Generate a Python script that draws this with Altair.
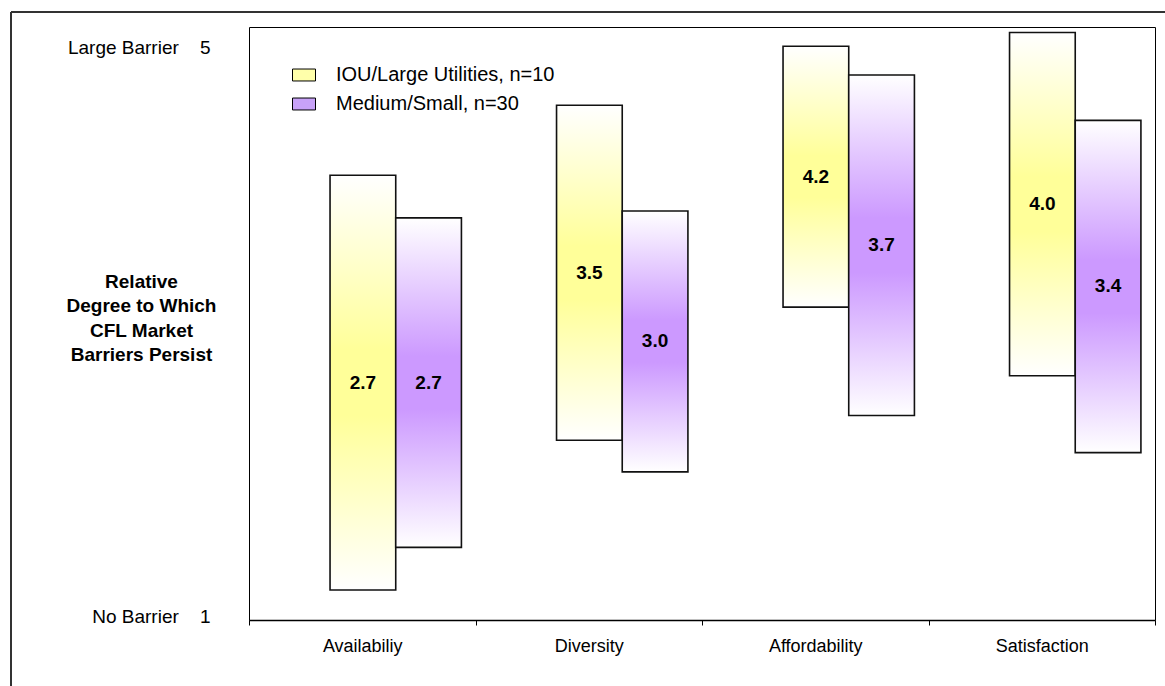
import altair as alt
import pandas as pd

# Survey categories and the two respondent groups
categories = ["Availabiliy", "Diversity", "Affordability", "Satisfaction"]
series_names = ["IOU/Large Utilities, n=10", "Medium/Small, n=30"]

# Mean rating (printed inside each bar) and the half-height of each bar
iou_means = [2.7, 3.5, 4.2, 4.0]
iou_spread = [1.51, 1.22, 0.95, 1.25]
small_means = [2.7, 3.0, 3.7, 3.4]
small_spread = [1.20, 0.95, 1.24, 1.21]

# y-axis end labels
axis_label_values = [1, 5.14]
axis_label_text = ["No Barrier\u00a0\u00a0\u00a0\u00a01", "Large Barrier\u00a0\u00a0\u00a0\u00a05"]

rows = []
for name, means, spreads in [(series_names[0], iou_means, iou_spread),
                             (series_names[1], small_means, small_spread)]:
    for cat, m, s in zip(categories, means, spreads):
        rows.append({"category": cat, "series": name, "mean": m,
                     "low": m - s, "high": m + s, "label": f"{m:.1f}"})
df = pd.DataFrame(rows)

FONT = "Liberation Sans"


def vertical_fade(center):
    return alt.Gradient(
        gradient="linear", x1=0, y1=0, x2=0, y2=1,
        stops=[alt.GradientStop(color="#FFFFFF", offset=0),
               alt.GradientStop(color=center, offset=0.42),
               alt.GradientStop(color=center, offset=0.58),
               alt.GradientStop(color="#FFFFFF", offset=1)],
    )


label_expr = (f"datum.value > 3 ? '{axis_label_text[1]}' : '{axis_label_text[0]}'")

x_enc = alt.X(
    "category:N", sort=categories,
    scale=alt.Scale(paddingInner=0, paddingOuter=0),
    axis=alt.Axis(title=None, labelAngle=0, tickBand="extent", tickSize=5,
                  tickColor="black", domainColor="black", domainWidth=1.5,
                  labelFontSize=18, labelFont=FONT, labelColor="black",
                  labelPadding=12, grid=False),
)
xoff_enc = alt.XOffset(
    "series:N",
    scale=alt.Scale(domain=series_names, paddingInner=0, paddingOuter=0.724, align=0.852),
)
y_scale = alt.Scale(domain=[0.971, 5.29], nice=False, zero=False)
y_axis = alt.Axis(
    values=axis_label_values, labelExpr=label_expr, ticks=False, domain=False,
    grid=False, labelPadding=39, labelFontSize=19, labelFont=FONT,
    labelColor="black",
    title=["Relative", "Degree to Which", "CFL Market", "Barriers Persist"],
    titleAngle=0, titleAlign="center", titleBaseline="middle",
    titleX=-108, titleY=254, titleFont=FONT, titleFontSize=19,
    titleFontWeight="bold", titleLineHeight=24.5, titleColor="black",
)

base = alt.Chart(df)

fills = {series_names[0]: "#FFFF99", series_names[1]: "#CC99FF"}

bar_layers = []
for name in series_names:
    bar_layers.append(
        base.transform_filter(alt.datum.series == name)
        .mark_bar(fill=vertical_fade(fills[name]), stroke="#111111", strokeWidth=1.6)
        .encode(x=x_enc, xOffset=xoff_enc,
                y=alt.Y("low:Q", scale=y_scale, axis=y_axis), y2="high:Q")
    )

labels = base.mark_text(fontWeight="bold", fontSize=19, font=FONT,
                        color="black", baseline="middle").encode(
    x=x_enc, xOffset=xoff_enc,
    y=alt.Y("mean:Q", scale=y_scale, axis=y_axis),
    text="label:N",
)

legend_layer = base.mark_point(filled=True, opacity=0).encode(
    x=x_enc, xOffset=xoff_enc,
    y=alt.Y("mean:Q", scale=y_scale, axis=y_axis),
    fill=alt.Fill(
        "series:N",
        scale=alt.Scale(domain=series_names, range=["#FFFFAA", "#C8A2F8"]),
        legend=alt.Legend(
            title=None, orient="none", legendX=43, legendY=36, padding=0,
            symbolType="M-1,-0.52H1V0.52H-1Z", symbolSize=529,
            symbolStrokeColor="black", symbolStrokeWidth=1, symbolOpacity=1,
            labelFontSize=20, labelFont=FONT, labelColor="black", labelLimit=0,
            labelOffset=20, rowPadding=7,
        ),
    ),
)

# outer frame lines around the whole figure
frame_left = alt.Chart(df).mark_rule(color="#333333", strokeWidth=1).encode(
    x=alt.value(-238), y=alt.value(-15), y2=alt.value(700))
frame_top = alt.Chart(df).mark_rule(color="#333333", strokeWidth=1).encode(
    x=alt.value(-238), x2=alt.value(1000), y=alt.value(-15))

chart = alt.layer(
    frame_left, frame_top, *bar_layers, labels, legend_layer
).properties(
    width=906, height=593, background="white",
    autosize=alt.AutoSizeParams(type="none"),
    padding={"left": 249, "top": 27, "right": 10, "bottom": 66},
).configure_view(
    stroke="black", strokeWidth=1
)

chart.save("out.html", embed_options={"renderer": "svg", "actions": False})
